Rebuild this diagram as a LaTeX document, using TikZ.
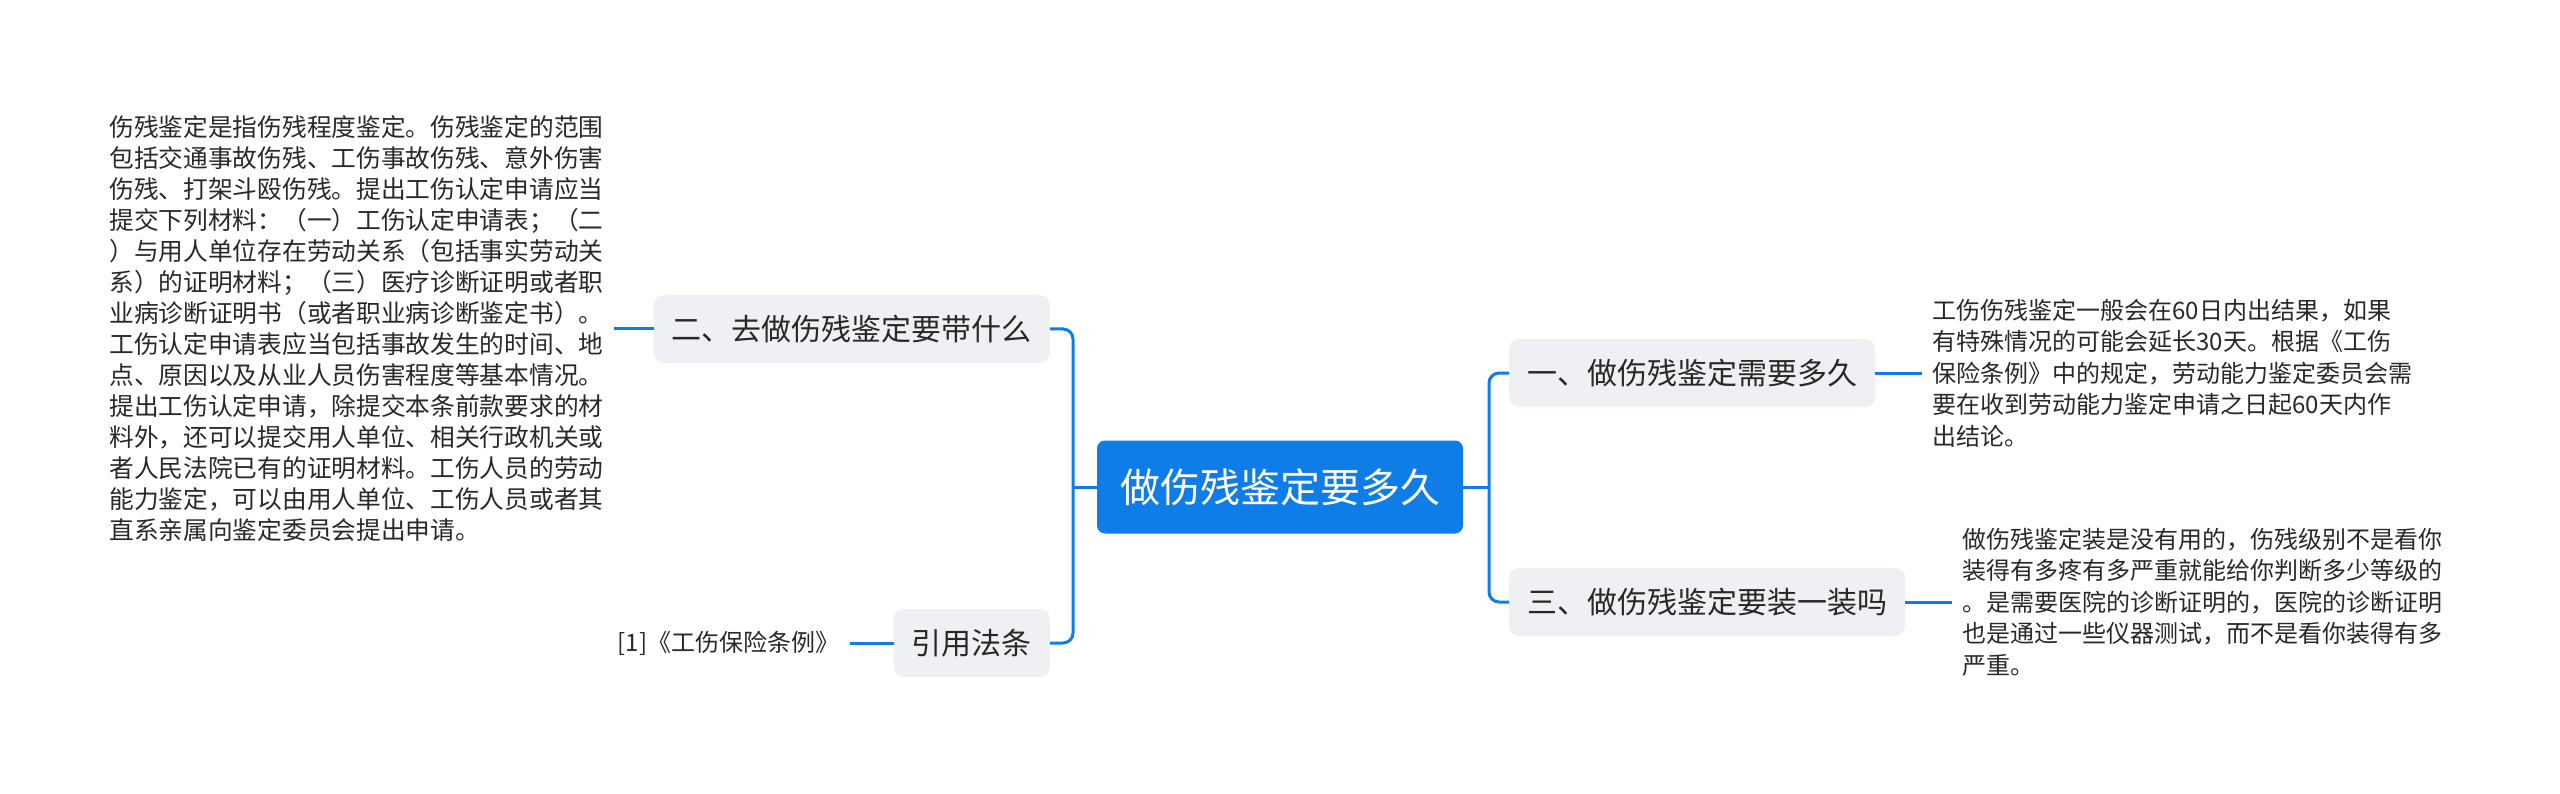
\documentclass[tikz,border=0pt]{standalone}
\usepackage{fontspec}
\setmainfont{Noto Sans CJK SC}
\usetikzlibrary{positioning}
\definecolor{mainblue}{RGB}{14,125,231}
\definecolor{subgray}{RGB}{238,240,243}
\definecolor{txtgray}{RGB}{40,40,40}
\tikzstyle{topic} = [fill=mainblue, rounded corners=8pt, text=white, inner xsep=23pt, minimum height=93pt, font=\fontsize{40}{48}\selectfont]
\tikzstyle{branch} = [fill=subgray, rounded corners=10pt, text=txtgray, inner xsep=18pt, minimum height=68pt, font=\fontsize{30}{36}\selectfont]
\tikzstyle{leaf} = [align=left, inner xsep=10pt, inner ysep=0pt, text=txtgray, font=\fontsize{24}{31.5}\selectfont]
\tikzstyle{link} = [draw=mainblue, line width=3pt]

\begin{document}
\begin{tikzpicture}[x=1pt,y=-1pt]
\useasboundingbox (0,0) rectangle (2560,794);
\node [topic] (root) at (1280,487) {做伤残鉴定要多久};
\node [branch, anchor=east] (q2) at (1050,329) {二、去做伤残鉴定要带什么};
\node [branch, anchor=east] (law) at (1050,643) {引用法条};
\node [branch, anchor=west] (q1) at (1509,373) {一、做伤残鉴定需要多久};
\node [branch, anchor=west] (q3) at (1509,602) {三、做伤残鉴定要装一装吗};

% leaf texts
\node [leaf, font=\fontsize{24.7}{31}\selectfont, left=40pt of q2] (t2) {伤残鉴定是指伤残程度鉴定。伤残鉴定的范围\\包括交通事故伤残、工伤事故伤残、意外伤害\\伤残、打架斗殴伤残。提出工伤认定申请应当\\提交下列材料：（一）工伤认定申请表；（二\\）与用人单位存在劳动关系（包括事实劳动关\\系）的证明材料；（三）医疗诊断证明或者职\\业病诊断证明书（或者职业病诊断鉴定书）。\\工伤认定申请表应当包括事故发生的时间、地\\点、原因以及从业人员伤害程度等基本情况。\\提出工伤认定申请，除提交本条前款要求的材\\料外，还可以提交用人单位、相关行政机关或\\者人民法院已有的证明材料。工伤人员的劳动\\能力鉴定，可以由用人单位、工伤人员或者其\\直系亲属向鉴定委员会提出申请。};
\node [leaf, left=44pt of law] (r1) {[1]《工伤保险条例》};
\node [leaf, right=47pt of q1] (t1) {工伤伤残鉴定一般会在60日内出结果，如果\\有特殊情况的可能会延长30天。根据《工伤\\保险条例》中的规定，劳动能力鉴定委员会需\\要在收到劳动能力鉴定申请之日起60天内作\\出结论。};
\node [leaf, right=47pt of q3] (t3) {做伤残鉴定装是没有用的，伤残级别不是看你\\装得有多疼有多严重就能给你判断多少等级的\\。是需要医院的诊断证明的，医院的诊断证明\\也是通过一些仪器测试，而不是看你装得有多\\严重。};

\coordinate (jl) at (1073,487);
\coordinate (jr) at (1489,487);

\draw [link] (root.west) -- (jl);
\draw [link, rounded corners=10pt] (jl) |- (q2);
\draw [link, rounded corners=10pt] (jl) |- (law);
\draw [link] (root.east) -- (jr);
\draw [link, rounded corners=10pt] (jr) |- (q1);
\draw [link, rounded corners=10pt] (jr) |- (q3);

\draw [link] (q2) -- (t2);
\draw [link] (law) -- (r1);
\draw [link] (q1) -- (t1);
\draw [link] (q3) -- (t3);
\end{tikzpicture}
\end{document}
